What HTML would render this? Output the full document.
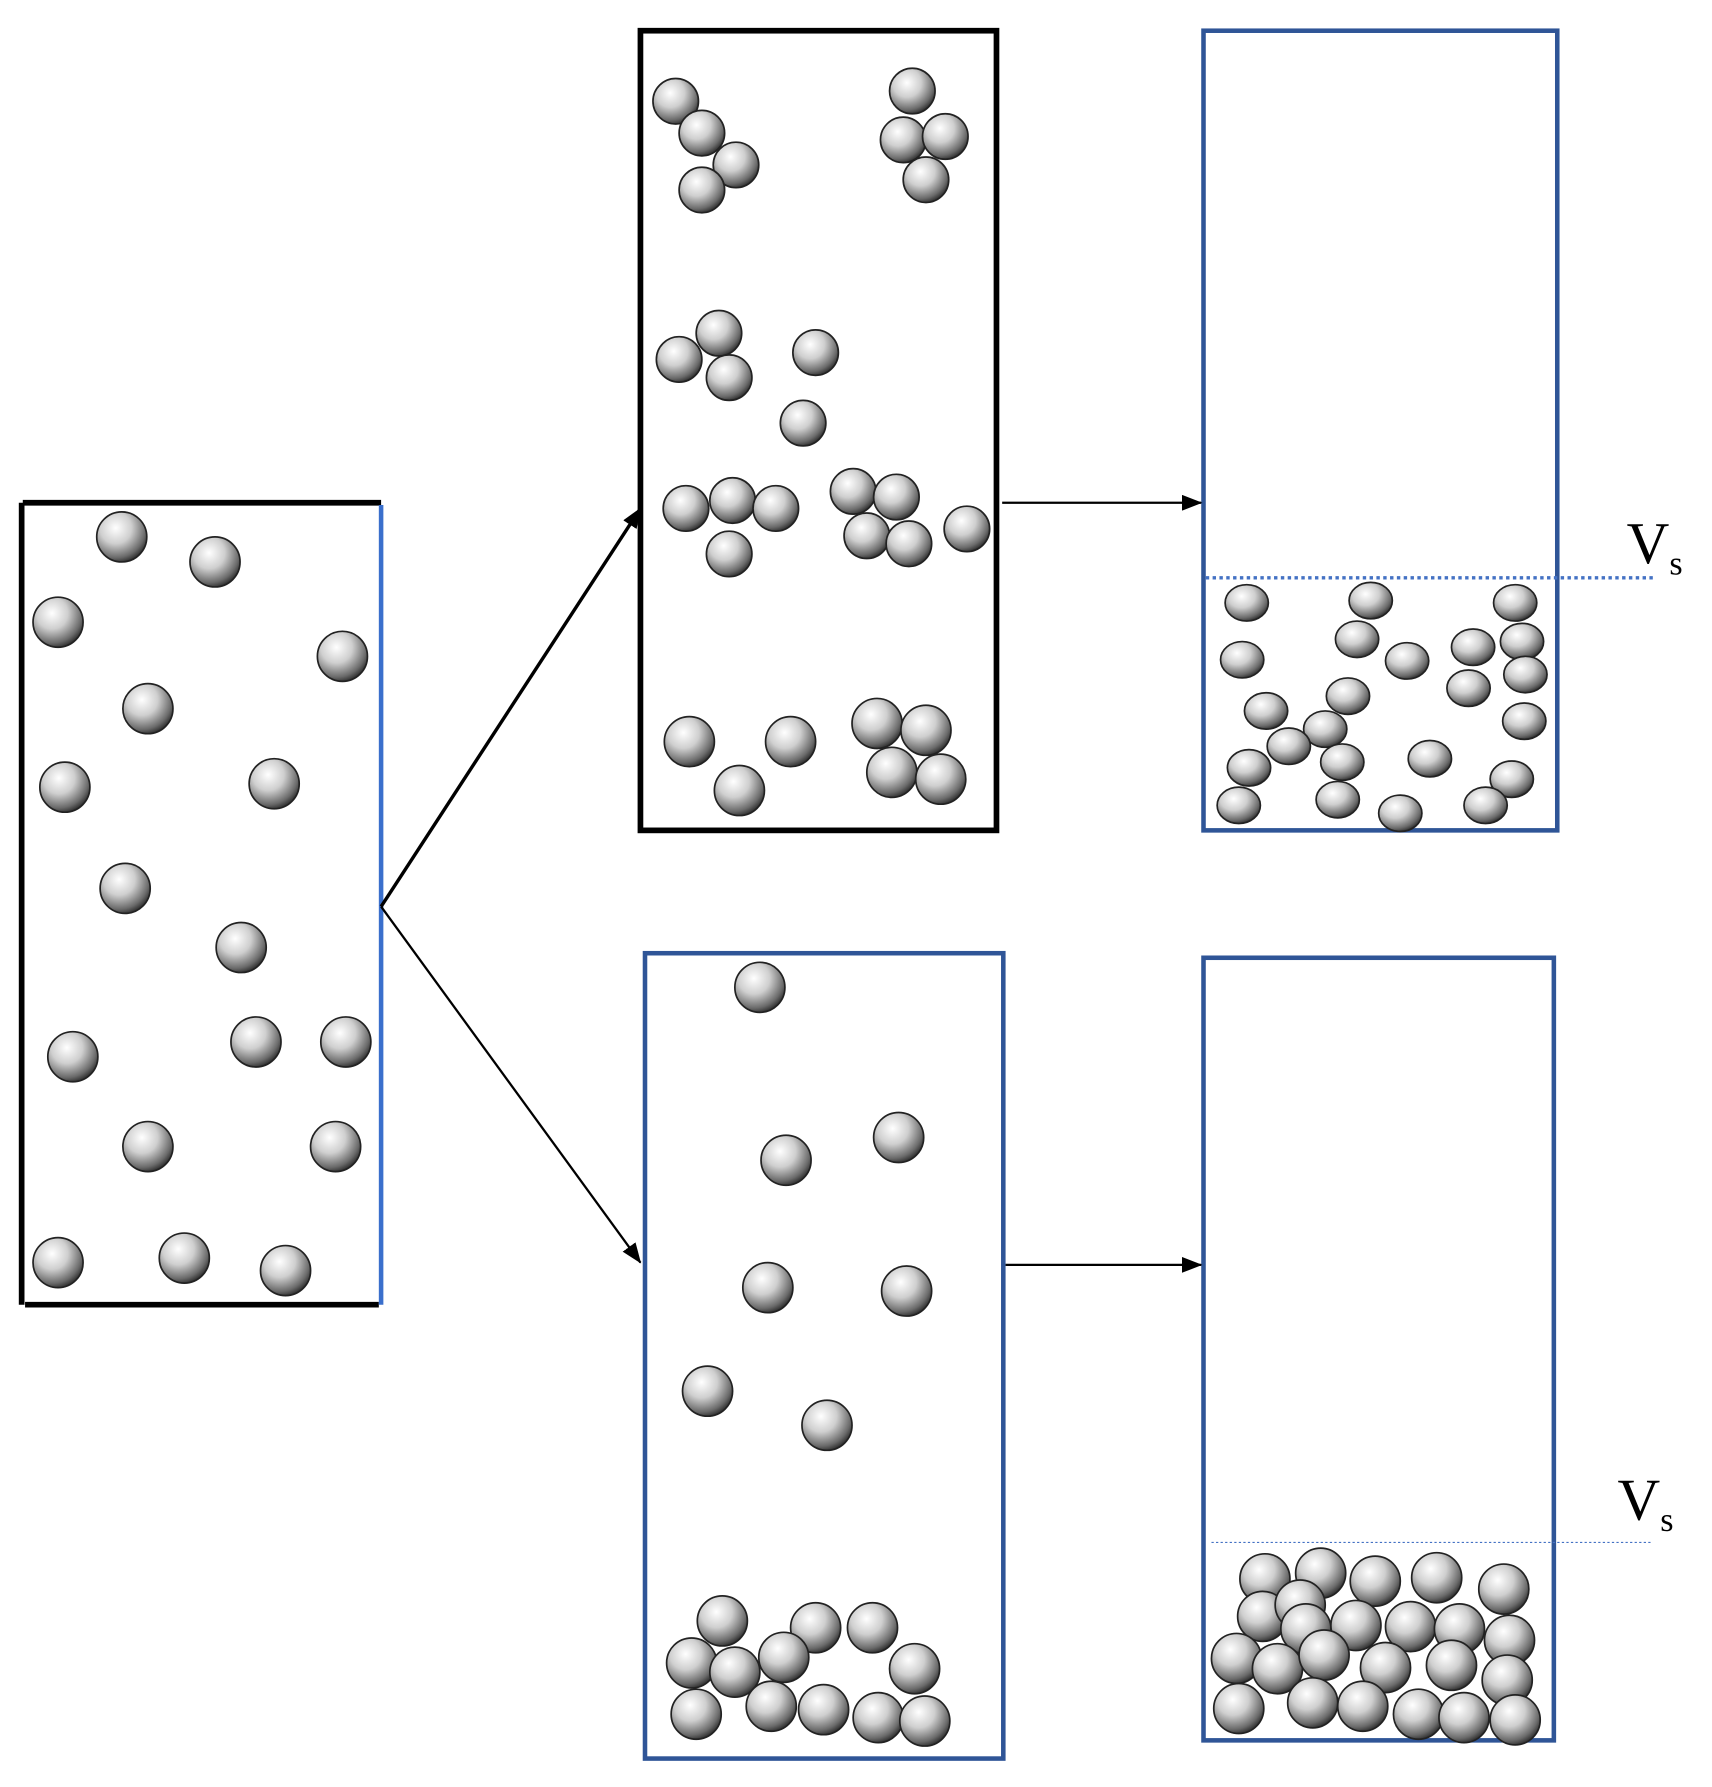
<!DOCTYPE html>
<html><head><meta charset="utf-8"><style>html,body{margin:0;padding:0;background:#fff}svg{display:block}</style></head>
<body>
<svg width="1712" height="1787" viewBox="0 0 1505 1571" xmlns="http://www.w3.org/2000/svg">
<defs>
<radialGradient id="g" cx="0.38" cy="0.32" r="0.7">
<stop offset="0" stop-color="#ffffff"/><stop offset="0.45" stop-color="#cfcfcf"/><stop offset="0.85" stop-color="#6a6a6a"/><stop offset="1" stop-color="#333"/>
</radialGradient>
<marker id="ah" markerWidth="10" markerHeight="10" refX="9" refY="5" orient="auto" markerUnits="userSpaceOnUse"><path d="M0,0 L10,5 L0,10 z" fill="#000"/></marker>
<marker id="ah2" markerWidth="18" markerHeight="14" refX="17" refY="7" orient="auto" markerUnits="userSpaceOnUse"><path d="M0,0 L18,7 L0,14 z" fill="#000"/></marker>
</defs>
<g fill="none">
<line x1="20" y1="442" x2="335" y2="442" stroke="#000" stroke-width="5"/>
<line x1="19" y1="442" x2="19" y2="1147" stroke="#000" stroke-width="5"/>
<line x1="22" y1="1147" x2="333" y2="1147" stroke="#000" stroke-width="5"/>
<line x1="335" y1="444" x2="335" y2="1147" stroke="#3a6fcc" stroke-width="4"/>
<rect x="563" y="27" width="313" height="703" stroke="#000" stroke-width="5"/>
<rect x="1058" y="27" width="311" height="703" stroke="#2f5597" stroke-width="4"/>
<rect x="567" y="838" width="315" height="708" stroke="#2f5597" stroke-width="4"/>
<rect x="1058" y="842" width="308" height="688" stroke="#2f5597" stroke-width="4"/>
<line x1="335" y1="797" x2="563" y2="447" stroke="#000" stroke-width="3" marker-end="url(#ah2)"/>
<line x1="335" y1="797" x2="563" y2="1110" stroke="#000" stroke-width="2" marker-end="url(#ah2)"/>
<line x1="881" y1="442" x2="1056" y2="442" stroke="#000" stroke-width="2" marker-end="url(#ah2)"/>
<line x1="884" y1="1112" x2="1056" y2="1112" stroke="#000" stroke-width="2" marker-end="url(#ah2)"/>
<line x1="1060" y1="508" x2="1455" y2="508" stroke="#4472c4" stroke-width="3" stroke-dasharray="3,3"/>
<line x1="1065" y1="1356" x2="1452" y2="1356" stroke="#4472c4" stroke-width="1" stroke-dasharray="2,2"/>
</g>
<text x="1430" y="495" font-family="Liberation Serif, serif" font-size="52">V<tspan font-size="30" dy="10">s</tspan></text>
<text x="1422" y="1336" font-family="Liberation Serif, serif" font-size="52">V<tspan font-size="30" dy="10">s</tspan></text>
<g fill="url(#g)" stroke="#222" stroke-width="1.5">
<circle cx="107" cy="472" r="22"/><circle cx="189" cy="494" r="22"/><circle cx="51" cy="547" r="22"/><circle cx="301" cy="577" r="22"/><circle cx="130" cy="623" r="22"/><circle cx="57" cy="692" r="22"/><circle cx="241" cy="689" r="22"/><circle cx="110" cy="781" r="22"/><circle cx="212" cy="833" r="22"/><circle cx="64" cy="929" r="22"/><circle cx="225" cy="916" r="22"/><circle cx="304" cy="916" r="22"/><circle cx="130" cy="1008" r="22"/><circle cx="295" cy="1008" r="22"/><circle cx="51" cy="1110" r="22"/><circle cx="162" cy="1106" r="22"/><circle cx="251" cy="1117" r="22"/>
</g>
<g fill="url(#g)" stroke="#222" stroke-width="1.5">
<circle cx="594" cy="89" r="20"/><circle cx="617" cy="117" r="20"/><circle cx="647" cy="145" r="20"/><circle cx="617" cy="167" r="20"/><circle cx="802" cy="80" r="20"/><circle cx="794" cy="123" r="20"/><circle cx="831" cy="120" r="20"/><circle cx="814" cy="158" r="20"/><circle cx="632" cy="293" r="20"/><circle cx="597" cy="316" r="20"/><circle cx="641" cy="332" r="20"/><circle cx="717" cy="310" r="20"/><circle cx="706" cy="372" r="20"/><circle cx="603" cy="447" r="20"/><circle cx="644" cy="440" r="20"/><circle cx="682" cy="447" r="20"/><circle cx="641" cy="487" r="20"/><circle cx="750" cy="432" r="20"/><circle cx="788" cy="437" r="20"/><circle cx="762" cy="471" r="20"/><circle cx="799" cy="478" r="20"/><circle cx="850" cy="465" r="20"/><circle cx="606" cy="652" r="22"/><circle cx="695" cy="652" r="22"/><circle cx="650" cy="695" r="22"/><circle cx="771" cy="636" r="22"/><circle cx="814" cy="642" r="22"/><circle cx="784" cy="679" r="22"/><circle cx="827" cy="685" r="22"/>
</g>
<g fill="url(#g)" stroke="#222" stroke-width="1.5">
<circle cx="668" cy="868" r="22"/><circle cx="691" cy="1020" r="22"/><circle cx="790" cy="1000" r="22"/><circle cx="675" cy="1132" r="22"/><circle cx="797" cy="1135" r="22"/><circle cx="622" cy="1223" r="22"/><circle cx="727" cy="1253" r="22"/><circle cx="635" cy="1425" r="22"/><circle cx="717" cy="1431" r="22"/><circle cx="767" cy="1431" r="22"/><circle cx="608" cy="1462" r="22"/><circle cx="646" cy="1470" r="22"/><circle cx="689" cy="1457" r="22"/><circle cx="804" cy="1467" r="22"/><circle cx="612" cy="1507" r="22"/><circle cx="678" cy="1500" r="22"/><circle cx="724" cy="1503" r="22"/><circle cx="772" cy="1510" r="22"/><circle cx="813" cy="1513" r="22"/>
</g>
<g fill="url(#g)" stroke="#222" stroke-width="1.5">
<ellipse cx="1096" cy="530" rx="19" ry="16"/><ellipse cx="1205" cy="528" rx="19" ry="16"/><ellipse cx="1332" cy="530" rx="19" ry="16"/><ellipse cx="1193" cy="562" rx="19" ry="16"/><ellipse cx="1092" cy="580" rx="19" ry="16"/><ellipse cx="1237" cy="581" rx="19" ry="16"/><ellipse cx="1295" cy="569" rx="19" ry="16"/><ellipse cx="1338" cy="564" rx="19" ry="16"/><ellipse cx="1291" cy="605" rx="19" ry="16"/><ellipse cx="1341" cy="593" rx="19" ry="16"/><ellipse cx="1185" cy="612" rx="19" ry="16"/><ellipse cx="1113" cy="625" rx="19" ry="16"/><ellipse cx="1165" cy="641" rx="19" ry="16"/><ellipse cx="1340" cy="634" rx="19" ry="16"/><ellipse cx="1133" cy="656" rx="19" ry="16"/><ellipse cx="1180" cy="670" rx="19" ry="16"/><ellipse cx="1098" cy="675" rx="19" ry="16"/><ellipse cx="1257" cy="667" rx="19" ry="16"/><ellipse cx="1329" cy="685" rx="19" ry="16"/><ellipse cx="1089" cy="708" rx="19" ry="16"/><ellipse cx="1176" cy="703" rx="19" ry="16"/><ellipse cx="1231" cy="715" rx="19" ry="16"/><ellipse cx="1306" cy="708" rx="19" ry="16"/>
</g>
<g fill="url(#g)" stroke="#222" stroke-width="1.5">
<circle cx="1112" cy="1388" r="22"/><circle cx="1161" cy="1383" r="22"/><circle cx="1209" cy="1390" r="22"/><circle cx="1263" cy="1387" r="22"/><circle cx="1322" cy="1397" r="22"/><circle cx="1110" cy="1421" r="22"/><circle cx="1143" cy="1411" r="22"/><circle cx="1148" cy="1432" r="22"/><circle cx="1192" cy="1429" r="22"/><circle cx="1240" cy="1430" r="22"/><circle cx="1283" cy="1432" r="22"/><circle cx="1327" cy="1442" r="22"/><circle cx="1087" cy="1458" r="22"/><circle cx="1123" cy="1467" r="22"/><circle cx="1164" cy="1455" r="22"/><circle cx="1218" cy="1466" r="22"/><circle cx="1276" cy="1464" r="22"/><circle cx="1325" cy="1477" r="22"/><circle cx="1089" cy="1502" r="22"/><circle cx="1154" cy="1497" r="22"/><circle cx="1198" cy="1500" r="22"/><circle cx="1247" cy="1507" r="22"/><circle cx="1287" cy="1510" r="22"/><circle cx="1332" cy="1512" r="22"/>
</g>
</svg>
</body></html>
